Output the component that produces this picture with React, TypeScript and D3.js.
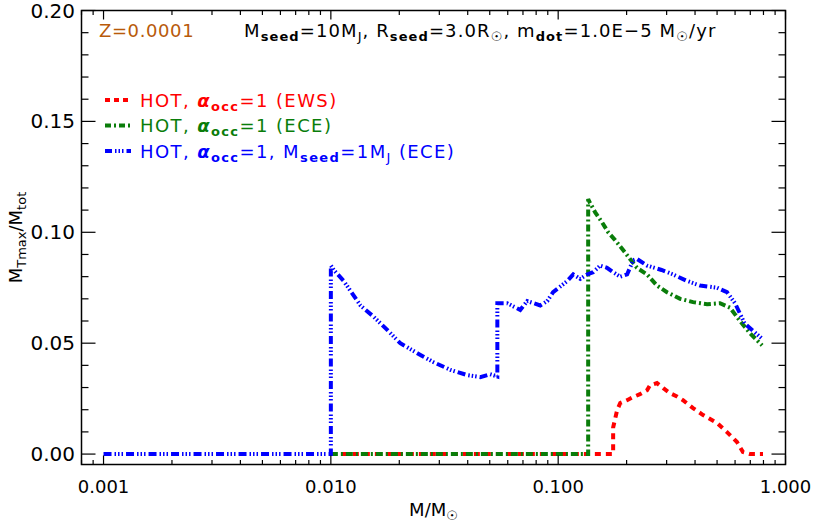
import React from "react";
import * as d3 from "d3";

// x = M/Msun, y = M_Tmax/M_tot
const redSeries: [number, number][] = [
  [0.01, 0], [0.1745, 0], [0.1745, 0.012], [0.1817, 0.0198], [0.1875, 0.023],
  [0.201, 0.0243], [0.2137, 0.0257], [0.229, 0.027], [0.246, 0.0288], [0.2535, 0.031],
  [0.272, 0.032], [0.29, 0.0297], [0.31, 0.0275], [0.333, 0.026], [0.354, 0.0243],
  [0.392, 0.0207], [0.434, 0.0176], [0.5, 0.014], [0.553, 0.0099], [0.612, 0.0054],
  [0.65, 0.0009], [0.698, 0], [0.796, 0],
];

const greenSeries: [number, number][] = [
  [0.01, 0], [0.1355, 0], [0.1355, 0.115], [0.1368, 0.114], [0.1455, 0.109],
  [0.156, 0.1045], [0.166, 0.1], [0.178, 0.0965], [0.193, 0.092], [0.207, 0.088],
  [0.222, 0.084], [0.246, 0.081], [0.272, 0.076], [0.301, 0.073], [0.344, 0.07],
  [0.392, 0.0685], [0.452, 0.0676], [0.515, 0.068], [0.57, 0.066], [0.631, 0.06],
  [0.698, 0.0545], [0.789, 0.049],
];

const blueSeries: [number, number][] = [
  [0.001, 0], [0.01, 0], [0.01, 0.085], [0.0103, 0.083], [0.0114, 0.078],
  [0.0135, 0.067], [0.0154, 0.062], [0.0177, 0.056], [0.0202, 0.05], [0.024, 0.0455],
  [0.0282, 0.0415], [0.0335, 0.038], [0.0398, 0.0356], [0.0454, 0.0347], [0.0502, 0.036],
  [0.054, 0.035], [0.054, 0.068], [0.0597, 0.068], [0.0681, 0.065], [0.0731, 0.069],
  [0.0834, 0.067], [0.0895, 0.069], [0.095, 0.073], [0.1096, 0.078], [0.1165, 0.081],
  [0.125, 0.079], [0.134, 0.081], [0.1425, 0.082], [0.153, 0.085], [0.164, 0.084],
  [0.1745, 0.082], [0.1875, 0.08], [0.201, 0.081], [0.2137, 0.0874], [0.222, 0.088],
  [0.246, 0.085], [0.285, 0.083], [0.32, 0.081], [0.37, 0.078], [0.421, 0.076],
  [0.5, 0.075], [0.553, 0.073], [0.6, 0.068], [0.66, 0.059], [0.789, 0.052],
];

const xTickValues = [0.001, 0.01, 0.1, 1];
const xTickLabels = ["0.001", "0.010", "0.100", "1.000"];
const yTickValues = [0, 0.05, 0.1, 0.15, 0.2];
const yTickLabels = ["0.00", "0.05", "0.10", "0.15", "0.20"];

const FONT = "'DejaVu Sans', Verdana, sans-serif";

export default function App() {
  const left = 81.5, right = 785.5, top = 10.5, bottom = 464.5;

  const x = d3.scaleLog().domain([0.0008, 1.0]).range([left, right]);
  const y = d3.scaleLinear().domain([-0.0047, 0.2]).range([bottom, top]);

  const line = d3.line<[number, number]>()
    .x(d => x(d[0]))
    .y(d => y(d[1]));

  // minor ticks for log axis
  const xMinor: number[] = [];
  for (let dec = -4; dec <= 0; dec++) {
    for (let k = 2; k <= 9; k++) {
      const v = k * Math.pow(10, dec);
      if (v >= 0.0008 && v <= 1.0) xMinor.push(v);
    }
  }
  const yMinor = d3.range(0, 21).map(i => i * 0.01).filter(v => Math.round(v * 100) % 5 !== 0);

  const series = [
    { data: redSeries, color: "#ff0000", dash: "6,5" },
    { data: greenSeries, color: "#0a7d0a", dash: "7,3,2,3" },
    { data: blueSeries, color: "#0000ff", dash: "8,3,1.5,2,1.5,2,1.5,3" },
  ];

  const legend = [
    { color: "#ff0000", dash: "5,4", extra: "", tail: " (EWS)" },
    { color: "#0a7d0a", dash: "6,3,2,3", extra: "", tail: " (ECE)" },
    { color: "#0000ff", dash: "7,3,1.5,2,1.5,2,1.5,3", extra: "seed", tail: " (ECE)" },
  ];

  const fs = 18;
  const sub = 13;
  const ls = 1.1;

  return (
    <svg width={814} height={523} style={{ position: "absolute", left: 0, top: 0, background: "#fff" }}
      fontFamily={FONT}>
      <rect x={0} y={0} width={814} height={523} fill="#fff" />

      {/* series */}
      {series.map((s, i) => (
        <path key={i} d={line(s.data) || ""} fill="none" stroke={s.color} strokeWidth={4}
          strokeDasharray={s.dash} />
      ))}

      {/* frame */}
      <rect x={left} y={top} width={right - left} height={bottom - top} fill="none" stroke="#000" strokeWidth={1.5} />

      {/* x ticks bottom & top */}
      {xTickValues.map(v => (
        <g key={"xM" + v}>
          <line x1={x(v)} x2={x(v)} y1={bottom} y2={bottom - 9} stroke="#000" strokeWidth={1.2} />
          <line x1={x(v)} x2={x(v)} y1={top} y2={top + 9} stroke="#000" strokeWidth={1.2} />
        </g>
      ))}
      {xMinor.map(v => (
        <g key={"xm" + v}>
          <line x1={x(v)} x2={x(v)} y1={bottom} y2={bottom - 4.5} stroke="#000" strokeWidth={1.2} />
          <line x1={x(v)} x2={x(v)} y1={top} y2={top + 4.5} stroke="#000" strokeWidth={1.2} />
        </g>
      ))}
      {xTickValues.map((v, i) => (
        <text key={"xl" + v} x={x(v)} y={493} textAnchor="middle" fontSize={fs}>{xTickLabels[i]}</text>
      ))}

      {/* y ticks left & right */}
      {yTickValues.map(v => (
        <g key={"yM" + v}>
          <line x1={left} x2={left + 14} y1={y(v)} y2={y(v)} stroke="#000" strokeWidth={1.2} />
          <line x1={right} x2={right - 14} y1={y(v)} y2={y(v)} stroke="#000" strokeWidth={1.2} />
        </g>
      ))}
      {yMinor.map(v => (
        <g key={"ym" + v}>
          <line x1={left} x2={left + 7} y1={y(v)} y2={y(v)} stroke="#000" strokeWidth={1.2} />
          <line x1={right} x2={right - 7} y1={y(v)} y2={y(v)} stroke="#000" strokeWidth={1.2} />
        </g>
      ))}
      {yTickValues.map((v, i) => (
        <text key={"yl" + v} x={75} y={y(v) + 7} textAnchor="end" fontSize={20}>{yTickLabels[i]}</text>
      ))}

      {/* axis titles */}
      <text x={(left + right) / 2} y={516} textAnchor="middle" fontSize={fs}>
        M/M<tspan fontSize={sub} dy={4}>☉</tspan>
      </text>
      <text transform={`translate(22,${(top + bottom) / 2}) rotate(-90)`} textAnchor="middle" fontSize={fs}>
        M<tspan fontSize={sub} dy={4}>Tmax</tspan><tspan dy={-4}>/M</tspan><tspan fontSize={sub} dy={4}>tot</tspan>
      </text>

      {/* header */}
      <text x={99} y={37} fontSize={18} letterSpacing={0.6} fill="#b85a0a">Z=0.0001</text>
      <text x={244} y={37} fontSize={fs} letterSpacing={ls}>
        M<tspan fontSize={sub} dy={4} fontWeight="bold">seed</tspan>
        <tspan dy={-4}>=10M</tspan><tspan fontSize={sub} dy={4}>J</tspan>
        <tspan dy={-4}>, R</tspan><tspan fontSize={sub} dy={4} fontWeight="bold">seed</tspan>
        <tspan dy={-4}>=3.0R</tspan><tspan fontSize={sub} dy={4}>☉</tspan>
        <tspan dy={-4}>, m</tspan><tspan fontSize={sub} dy={4} fontWeight="bold">dot</tspan>
        <tspan dy={-4}>=1.0E−5 M</tspan><tspan fontSize={sub} dy={4}>☉</tspan>
        <tspan dy={-4}>/yr</tspan>
      </text>

      {/* legend */}
      {legend.map((l, i) => {
        const ly = 100 + i * 25.5;
        return (
          <g key={"lg" + i}>
            <line x1={105} x2={131} y1={ly} y2={ly} stroke={l.color} strokeWidth={4} strokeDasharray={l.dash} />
            <text x={140} y={ly + 6.5} fontSize={fs} letterSpacing={1.4} fill={l.color}>
              HOT, <tspan fontWeight="bold" fontStyle="italic">α</tspan>
              <tspan fontSize={sub} dy={4} fontWeight="bold">occ</tspan>
              <tspan dy={-4}>=1</tspan>
              {l.extra ? (
                <>
                  <tspan>, M</tspan><tspan fontSize={sub} dy={4} fontWeight="bold">seed</tspan>
                  <tspan dy={-4}>=1M</tspan><tspan fontSize={sub} dy={4}>J</tspan>
                  <tspan dy={-4}>{l.tail}</tspan>
                </>
              ) : (
                <tspan>{l.tail}</tspan>
              )}
            </text>
          </g>
        );
      })}
    </svg>
  );
}
